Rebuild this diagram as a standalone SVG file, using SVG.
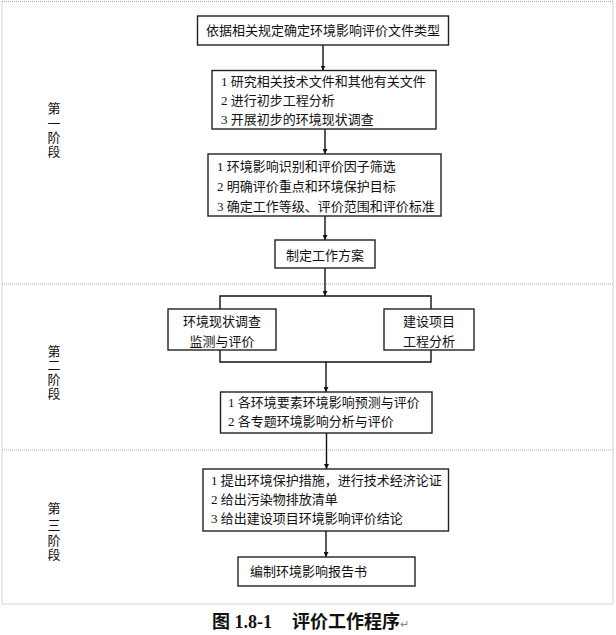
<svg xmlns="http://www.w3.org/2000/svg" width="616" height="635" viewBox="0 0 616 635">
<defs>
<style>
.box{fill:#fff;stroke:#222;stroke-width:1.4}
.t{font-family:"Liberation Serif","Noto Sans CJK SC",serif;font-size:13px;fill:#111}
.c{text-anchor:middle}
.stage{font-family:"Liberation Serif","Noto Sans CJK SC",serif;font-size:13px;fill:#111;text-anchor:middle}
.sep{stroke:#aaa;stroke-width:1;stroke-dasharray:1 1;fill:none}
.conn{stroke:#111;stroke-width:1.4;fill:none}
.cap{font-family:"Liberation Serif","Noto Sans CJK SC",serif;font-size:18px;font-weight:bold;fill:#111}
</style>
<marker id="ah" viewBox="0 0 10 10" refX="10" refY="5" markerWidth="5" markerHeight="5" orient="auto" markerUnits="userSpaceOnUse">
<path d="M0,0 L10,5 L0,10 z" fill="#111"/>
</marker>
</defs>
<rect x="0" y="0" width="616" height="635" fill="#fff"/>
<g id="frame">
<rect x="2" y="1.5" width="611" height="602.5" class="sep"/>
<line x1="2" y1="284" x2="613" y2="284" class="sep"/>
<line x1="2" y1="450" x2="613" y2="450" class="sep" stroke-width="1.5"/>
</g>
<g id="stage1">
<text class="stage"><tspan x="54" y="113">第</tspan><tspan x="54" y="128">一</tspan><tspan x="54" y="142">阶</tspan><tspan x="54" y="156">段</tspan></text>
</g>
<g id="stage2">
<text class="stage"><tspan x="54" y="356">第</tspan><tspan x="54" y="370">二</tspan><tspan x="54" y="384">阶</tspan><tspan x="54" y="398">段</tspan></text>
</g>
<g id="stage3">
<text class="stage"><tspan x="54" y="513">第</tspan><tspan x="54" y="530">三</tspan><tspan x="54" y="545">阶</tspan><tspan x="54" y="559">段</tspan></text>
</g>
<g id="connectors">
<line x1="323" y1="45" x2="323" y2="70.5" class="conn" marker-end="url(#ah)"/>
<line x1="325" y1="129" x2="325" y2="154" class="conn" marker-end="url(#ah)"/>
<line x1="325" y1="216" x2="325" y2="240" class="conn" marker-end="url(#ah)"/>
<line x1="325" y1="268" x2="325" y2="296" class="conn" marker-end="url(#ah)"/>
<polyline points="220,310 220,296 431,296 431,310" class="conn"/>
<polyline points="220,350 220,362 431,362 431,350" class="conn"/>
<line x1="326" y1="362" x2="326" y2="392" class="conn" marker-end="url(#ah)"/>
<line x1="326.5" y1="433" x2="326.5" y2="469" class="conn" marker-end="url(#ah)"/>
<line x1="326" y1="531" x2="326" y2="557" class="conn" marker-end="url(#ah)"/>
</g>
<g id="n1">
<rect x="197.5" y="16" width="251" height="29" class="box"/>
<text x="323" y="35" class="t c">依据相关规定确定环境影响评价文件类型</text>
</g>
<g id="n2">
<rect x="212" y="70.5" width="224" height="58.5" class="box"/>
<text x="221" y="86" class="t">1 研究相关技术文件和其他有关文件</text>
<text x="221" y="104.5" class="t">2 进行初步工程分析</text>
<text x="221" y="123.5" class="t">3 开展初步的环境现状调查</text>
</g>
<g id="n3">
<rect x="208" y="154" width="233" height="62" class="box"/>
<text x="217" y="171" class="t">1 环境影响识别和评价因子筛选</text>
<text x="217" y="191" class="t">2 明确评价重点和环境保护目标</text>
<text x="217" y="211" class="t">3 确定工作等级、评价范围和评价标准</text>
</g>
<g id="n4">
<rect x="275" y="240" width="100" height="28" class="box"/>
<text x="325" y="259.5" class="t c">制定工作方案</text>
</g>
<g id="n5">
<rect x="168" y="309" width="108" height="41" class="box"/>
<text x="222" y="326" class="t c">环境现状调查</text>
<text x="222" y="346" class="t c">监测与评价</text>
</g>
<g id="n6">
<rect x="384" y="309" width="90" height="41" class="box"/>
<text x="429" y="326" class="t c">建设项目</text>
<text x="429" y="346" class="t c">工程分析</text>
</g>
<g id="n7">
<rect x="220.5" y="392" width="211.5" height="41" class="box"/>
<text x="228" y="407" class="t">1 各环境要素环境影响预测与评价</text>
<text x="228" y="425.5" class="t">2 各专题环境影响分析与评价</text>
</g>
<g id="n8">
<rect x="203" y="469" width="245.5" height="62" class="box"/>
<text x="211" y="485" class="t">1 提出环境保护措施，进行技术经济论证</text>
<text x="211" y="503.5" class="t">2 给出污染物排放清单</text>
<text x="211" y="522.5" class="t">3 给出建设项目环境影响评价结论</text>
</g>
<g id="n9">
<rect x="238" y="557" width="177" height="29" class="box"/>
<text x="250" y="576" class="t">编制环境影响报告书</text>
</g>
<g id="caption">
<text x="212" y="628" class="cap">图 1.8-1<tspan x="292">评价工作程序</tspan><tspan font-size="11" font-weight="normal" fill="#888">↵</tspan></text>
</g>
</svg>
